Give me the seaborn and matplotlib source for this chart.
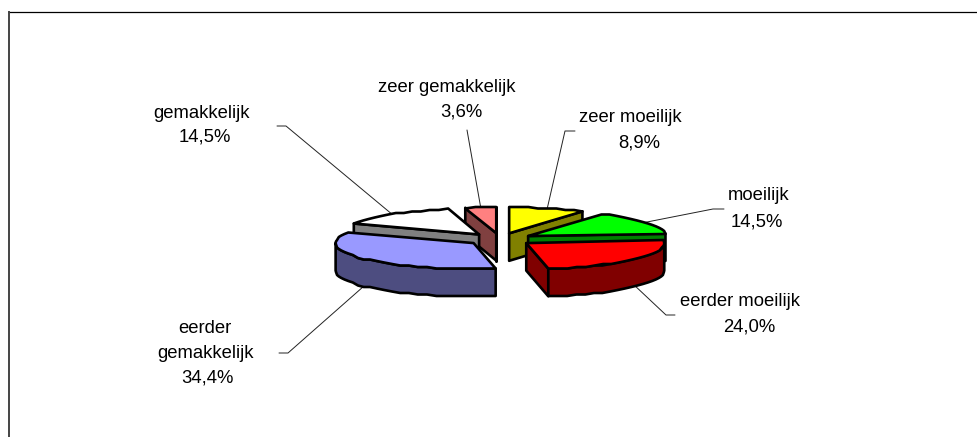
# plot.py
import numpy as np
import pandas as pd
import matplotlib
matplotlib.use("Agg")
import matplotlib.pyplot as plt
from matplotlib.patches import Polygon
import seaborn as sns

# Data, clockwise from 12 o'clock
categories = ['zeer moeilijk', 'moeilijk', 'eerder moeilijk', 'eerder gemakkelijk', 'gemakkelijk', 'zeer gemakkelijk']
label_text = ['zeer moeilijk', 'moeilijk', 'eerder moeilijk', 'eerder\ngemakkelijk', 'gemakkelijk', 'zeer gemakkelijk']
percent = [8.9, 14.5, 24.0, 34.4, 14.5, 3.6]
top_colors = ['#FFFF00', '#00FF00', '#FF0000', '#9999FF', '#FFFFFF', '#FF8080']
side_colors = ['#808000', '#008000', '#800000', '#4D4D80', '#808080', '#804040']

# Label centres and the elbow of the leader line (pixels)
name_x = [630.5, 759, 740, 205, 202, 447]
name_y = [118, 196, 302, 341, 113, 88]
pct_x = [639, 757, 749, 207, 205, 461]
pct_y = [143, 222, 327, 378, 137, 112]
elbow_x = [565, 713, 666, 288, 286, 467]
elbow_y = [131, 209, 315, 353, 126, 130]
line_end_x = [575, 724, 675, 279, 277, 467]

# Pie geometry (pixels)
cx, cy = 500, 239.3
rx, ry = 138, 26
depth = 27.5
explode = 0.24

sns.set_theme(style="white")
plt.rcParams['font.family'] = ['Liberation Sans', 'DejaVu Sans']

df = pd.DataFrame({'category': categories, 'label': label_text, 'percent': percent,
                   'top': top_colors, 'side': side_colors})
df['share'] = df['percent'] / df['percent'].sum() * 360
df['end'] = df['share'].cumsum()
df['start'] = df['end'] - df['share']
df['mid'] = (df['start'] + df['end']) / 2

fig = plt.figure(figsize=(9.78, 4.37), dpi=100)
ax = fig.add_axes([0, 0, 1, 1])
ax.set_xlim(0, 978)
ax.set_ylim(437, 0)
ax.axis('off')

# Chart frame, only the top and left edges show
ax.plot([8, 978], [11.5, 11.5], color='black', lw=0.9, solid_capstyle='butt', zorder=1)
ax.plot([9, 9], [11, 437], color='#444444', lw=1.4, solid_capstyle='butt', zorder=1)


def rim(ox, oy, angle):
    a = np.radians(angle)
    return ox + rx * np.sin(a), oy - ry * np.cos(a)


def rim_steps(a0, a1):
    # original outline is coarse, keep it a bit stepped
    n = max(int((a1 - a0) / 4), 2) + 1
    return np.linspace(a0, a1, n)


edge = dict(edgecolor='black', linewidth=1.9, joinstyle='round')
z = 5
# back slices first
for i in df.assign(back=-np.cos(np.radians(df['mid']))).sort_values('back').index:
    s = df.loc[i]
    ox = cx + explode * rx * np.sin(np.radians(s['mid']))
    oy = cy - explode * ry * np.cos(np.radians(s['mid']))

    # cut faces, only the ones turned to the viewer
    for ang, normal in [(s['start'], s['start'] - 90), (s['end'], s['end'] + 90)]:
        if np.cos(np.radians(normal)) < 0:
            x1, y1 = rim(ox, oy, ang)
            ax.add_patch(Polygon([(ox, oy), (x1, y1), (x1, y1 + depth), (ox, oy + depth)],
                                 facecolor=s['side'], zorder=z, **edge))
            z += 1

    # outer wall, front half of the ellipse only
    a0, a1 = max(s['start'], 90), min(s['end'], 270)
    if a1 > a0:
        xs, ys = rim(ox, oy, rim_steps(a0, a1))
        ys = np.round(ys / 1.5) * 1.5
        pts = list(zip(xs, ys)) + list(zip(xs[::-1], ys[::-1] + depth))
        ax.add_patch(Polygon(pts, facecolor=s['side'], zorder=z, **edge))
        z += 1

    # top face
    xs, ys = rim(ox, oy, rim_steps(s['start'], s['end']))
    ys = np.round(ys / 1.5) * 1.5
    ax.add_patch(Polygon([(ox, oy)] + list(zip(xs, ys)), facecolor=s['top'], zorder=z, **edge))
    z += 1

    # leader line from the rim at mid angle
    lx, ly = rim(ox, oy, s['mid'])
    if 90 < s['mid'] < 270:
        ly += depth
    ax.plot([lx, elbow_x[i], line_end_x[i]], [ly, elbow_y[i], elbow_y[i]], color='#222222', lw=0.7, zorder=2)

    ax.text(name_x[i], name_y[i], s['label'], ha='center', va='center', fontsize=13.3,
            color='black', linespacing=1.62, zorder=30)
    ax.text(pct_x[i], pct_y[i], f"{s['percent']:.1f}%".replace('.', ','), ha='center', va='center',
            fontsize=13.3, color='black', zorder=30)

fig.savefig('out.png', dpi=100)
